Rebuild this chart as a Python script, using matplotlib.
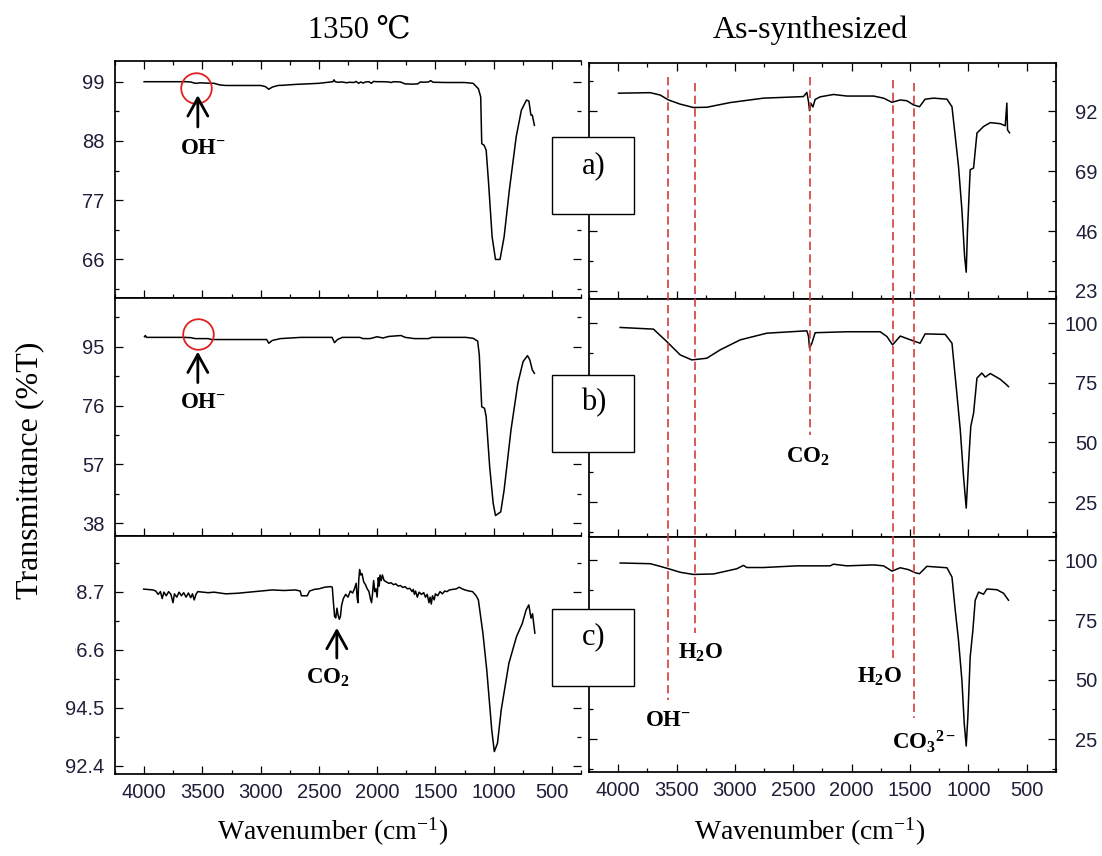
import matplotlib
matplotlib.use("Agg")
import matplotlib.pyplot as plt
from matplotlib.ticker import MultipleLocator, FormatStrFormatter
from matplotlib.lines import Line2D
from matplotlib.patches import Rectangle
from matplotlib.transforms import blended_transform_factory

plt.rcParams['mathtext.fontset'] = 'custom'
plt.rcParams['mathtext.rm'] = 'Liberation Serif'
plt.rcParams['mathtext.it'] = 'Liberation Serif:italic'
plt.rcParams['mathtext.bf'] = 'Liberation Serif:bold'

# ---------------- spectra: 1350 C (left column) ----------------
wn_1350_a = [4000, 3640, 3600, 3570, 3550, 3520, 3480, 3400, 3350, 3300, 3000, 2960, 2930,
             2900, 2850, 2800, 2700, 2500, 2400, 2380, 2370, 2360, 2340, 2300, 2260, 2240,
             2200, 2180, 2160, 2140, 2120, 2100, 2070, 2050, 2030, 2000, 1950, 1900, 1880,
             1860, 1800, 1760, 1700, 1650, 1630, 1600, 1560, 1540, 1520, 1400, 1250, 1200,
             1176, 1131, 1111, 1102, 1082, 1064, 1043, 1013, 984, 945, 910, 865, 806, 762,
             718, 697, 680, 668, 650]
t_1350_a = [99.0, 99.0, 98.95, 98.75, 98.7, 98.8, 98.75, 98.7, 98.4, 98.3, 98.3, 98.1, 97.6,
            98.0, 98.3, 98.35, 98.5, 98.7, 98.95, 99.0, 99.35, 99.0, 98.9, 98.95, 98.8, 98.9,
            98.85, 99.05, 98.7, 98.95, 98.75, 98.95, 99.0, 98.7, 99.05, 99.0, 99.0, 98.95, 98.85,
            99.0, 98.95, 98.6, 98.55, 98.6, 98.95, 98.9, 98.95, 99.2, 98.9, 98.85, 98.85, 98.75,
            98.7, 97.7, 96.2, 87.5, 87.2, 86.3, 80.1, 70.2, 66.0, 66.0, 70.2, 78.9, 88.8, 93.7,
            95.6, 95.4, 92.8, 92.8, 90.9]

wn_1350_b = [3997, 3990, 3980, 3657, 3600, 3560, 3450, 3421, 2948, 2930, 2900, 2830, 2653,
             2387, 2366, 2340, 2298, 2150, 2120, 2061, 2000, 1950, 1900, 1795, 1760, 1680,
             1560, 1530, 1238, 1176, 1137, 1123, 1102, 1078, 1064, 1034, 1004, 984, 939, 910,
             851, 792, 747, 709, 689, 668, 650]
t_1350_b = [98.2, 98.6, 98.0, 98.0, 97.9, 97.6, 97.6, 97.3, 97.3, 96.1, 97.0, 97.6, 98.0,
            98.0, 96.3, 97.3, 98.0, 98.0, 97.6, 97.6, 98.2, 97.8, 98.3, 98.6, 98.0, 97.6,
            97.6, 98.0, 98.0, 97.7, 96.8, 92.3, 75.6, 75.1, 72.4, 56.3, 44.5, 40.5, 41.7, 48.7,
            68.1, 83.2, 90.2, 92.1, 90.7, 87.5, 86.4]

wn_1350_c = [4004, 3923, 3900, 3880, 3860, 3845, 3830, 3810, 3790, 3770, 3752, 3740, 3720,
             3700, 3680, 3660, 3640, 3620, 3600, 3585, 3570, 3555, 3540, 3450, 3400, 3300,
             3200, 3100, 3000, 2900, 2800, 2700, 2660, 2650, 2600, 2580, 2540, 2500, 2450,
             2400, 2385, 2375, 2365, 2355, 2345, 2335, 2325, 2315, 2305, 2290, 2270, 2250,
             2230, 2210, 2195, 2180, 2172, 2165, 2158, 2150, 2140, 2130, 2115, 2100, 2085,
             2070, 2058, 2048, 2040, 2030, 2020, 2010, 2000, 1990, 1982, 1975, 1965, 1955,
             1940, 1920, 1900, 1880, 1860, 1840, 1820, 1800, 1780, 1760, 1740, 1720, 1700,
             1690, 1680, 1670, 1655, 1640, 1620, 1600, 1585, 1570, 1555, 1545, 1535, 1525,
             1510, 1500, 1480, 1460, 1440, 1420, 1400, 1380, 1350, 1320, 1296, 1270, 1246,
             1210, 1181, 1150, 1131, 1092, 1059, 1016, 994, 967, 935, 869, 804, 754, 721,
             698, 679, 666, 646]
t_1350_c = [98.79, 98.76, 98.72, 98.6, 98.7, 98.45, 98.68, 98.55, 98.7, 98.6, 98.3, 98.62, 98.5,
            98.68, 98.55, 98.66, 98.5, 98.65, 98.48, 98.62, 98.4, 98.6, 98.7, 98.66, 98.68, 98.62,
            98.64, 98.68, 98.72, 98.76, 98.74, 98.76, 98.72, 98.55, 98.55, 98.72, 98.78, 98.8, 98.86,
            98.88, 98.86, 98.3, 97.8, 97.75, 98.1, 97.85, 97.7, 97.8, 98.2, 98.45, 98.6, 98.5,
            98.72, 98.65, 98.8, 99.0, 98.5, 98.3, 99.1, 99.5, 99.3, 99.35, 99.05, 98.95, 98.8,
            98.7, 98.45, 98.3, 98.6, 99.1, 98.7, 98.8, 98.5, 99.2, 98.9, 99.3, 99.1, 99.3,
            99.1, 99.05, 99.0, 99.02, 98.95, 98.98, 98.9, 98.92, 98.85, 98.88, 98.8, 98.82, 98.7,
            98.78, 98.6, 98.72, 98.5, 98.68, 98.6, 98.66, 98.5, 98.6, 98.3, 98.5, 98.25, 98.55,
            98.4, 98.62, 98.55, 98.7, 98.62, 98.72, 98.7, 98.76, 98.78, 98.8, 98.86, 98.8, 98.76,
            98.72, 98.7, 98.55, 98.4, 97.2, 95.87, 93.7, 92.92, 93.22, 94.42, 96.11, 97.07, 97.55, 98.04,
            98.22, 97.74, 97.9, 97.2]

# ---------------- spectra: as-synthesized (right column) ----------------
wn_as_a = [3997, 3726, 3641, 3569, 3469, 3355, 3241, 3041, 2755, 2413, 2384, 2370, 2361,
           2349, 2332, 2313, 2270, 2156, 2041, 1812, 1727, 1655, 1584, 1528, 1470, 1419,
           1371, 1299, 1184, 1141, 1113, 1085, 1056, 1033, 1019, 1008, 985, 956, 927, 871,
           813, 728, 685, 671, 665, 648]
t_as_a = [98.9, 99.1, 98.2, 96.3, 94.7, 93.4, 93.5, 95.3, 97.0, 97.6, 99.2, 95.7, 92.2,
          95.0, 93.6, 96.5, 97.5, 98.4, 97.8, 97.8, 97.0, 95.4, 96.3, 96.0, 94.4, 93.7,
          96.6, 97.0, 96.6, 93.7, 82.3, 70.8, 54.2, 36.3, 30.2, 46.5, 69.5, 70.2, 83.6, 86.1,
          87.6, 87.2, 86.4, 95.1, 84.8, 83.7]

wn_as_b = [3983, 3698, 3584, 3469, 3369, 3241, 3127, 2955, 2727, 2384, 2370, 2361, 2341,
           2313, 2041, 1756, 1698, 1650, 1584, 1513, 1456, 1414, 1371, 1199, 1141, 1105,
           1070, 1042, 1019, 999, 980, 956, 927, 885, 856, 813, 728, 671, 657]
t_as_b = [98.2, 97.5, 92.3, 86.7, 84.6, 85.3, 88.8, 93.0, 95.8, 96.8, 94.5, 89.5, 91.6,
          96.0, 96.4, 96.4, 94.4, 90.9, 94.6, 93.3, 92.3, 91.6, 95.5, 95.3, 91.6, 73.4,
          55.3, 35.7, 22.5, 41.3, 56.7, 62.3, 77.0, 79.1, 77.4, 78.9, 76.5, 74.1, 73.4]

wn_as_c = [3983, 3726, 3641, 3569, 3469, 3355, 3183, 2983, 2927, 2899, 2755, 2470, 2184,
           2156, 2041, 1812, 1727, 1655, 1584, 1513, 1456, 1419, 1356, 1184, 1141, 1113,
           1085, 1056, 1036, 1019, 1005, 985, 962, 942, 913, 871, 842, 756, 699, 657]
t_as_c = [98.9, 98.6, 97.5, 96.5, 95.0, 94.1, 94.3, 96.5, 97.9, 97.0, 97.0, 97.7, 97.7,
          98.4, 97.7, 98.1, 97.7, 95.5, 96.9, 96.1, 94.8, 94.4, 97.5, 96.9, 93.0, 79.1,
          66.5, 49.8, 31.7, 22.2, 34.4, 59.5, 70.7, 83.3, 86.7, 85.8, 88.0, 87.7, 86.2, 83.3]

# band positions marked on the as-synthesized spectra (cm-1)
band_wn = [3570, 3345, 2355, 1650, 1465]

# ---------------- layout (pixels of a 1102 x 856 canvas) ----------------
W, H = 1102, 856
fig = plt.figure(figsize=(W / 100, H / 100), dpi=100)


def rect(x0, y0, x1, y1):
    return [x0 / W, 1 - y1 / H, (x1 - x0) / W, (y1 - y0) / H]


def fx(x):
    return x / W


def fy(y):
    return 1 - y / H


left_rows = [(60.7, 297.7), (297.7, 535.7), (535.7, 774)]
right_rows = [(62.7, 299.3), (299.3, 536.5), (536.5, 772)]

left_data = [(wn_1350_a, t_1350_a), (wn_1350_b, t_1350_b), (wn_1350_c, t_1350_c)]
right_data = [(wn_as_a, t_as_a), (wn_as_b, t_as_b), (wn_as_c, t_as_c)]

left_ylim = [(58.9, 102.9), (34.0, 110.8), (92.11, 100.72)]
left_major = [11, 19, 2.1]
left_fmt = ['%d', '%d', '%.1f']
right_ylim = [(19.8, 110.6), (10.6, 110.0), (11.3, 110.0)]
right_major = [23, 25, 25]

tick_color = '#1f1f3a'
serif = ['Liberation Serif', 'DejaVu Serif']


def style_axis(ax, row, side):
    ax.set_xlim(4250, 250)
    ax.xaxis.set_major_locator(MultipleLocator(500))
    ax.xaxis.set_minor_locator(MultipleLocator(250))
    for sp in ax.spines.values():
        sp.set_linewidth(1.25)
    ax.tick_params(which='both', direction='in', top=(row == 0), bottom=True,
                   left=True, right=True, width=0.9, colors='black')
    ax.tick_params(which='major', length=6)
    ax.tick_params(which='minor', length=3)
    ax.tick_params(axis='x', labelbottom=(row == 2), pad=6.5, labelcolor=tick_color,
                   labelsize=14.5)
    if side == 'left':
        ax.tick_params(axis='y', labelleft=True, labelright=False, pad=7.7,
                       labelcolor=tick_color, labelsize=14.5)
        ax.spines['right'].set_visible(False)
    else:
        ax.tick_params(axis='y', labelleft=False, labelright=True, pad=30,
                       labelcolor=tick_color, labelsize=14.5)
    for lbl in ax.get_xticklabels() + ax.get_yticklabels():
        lbl.set_fontfamily('Liberation Sans')


axes_left, axes_right = [], []
for i in range(3):
    axl = fig.add_axes(rect(115, left_rows[i][0], 581, left_rows[i][1]))
    wn, tv = left_data[i]
    axl.plot(wn, tv, color='black', lw=1.1)
    axl.set_ylim(*left_ylim[i])
    axl.yaxis.set_major_locator(MultipleLocator(left_major[i]))
    axl.yaxis.set_minor_locator(MultipleLocator(left_major[i] / 2))
    axl.yaxis.set_major_formatter(FormatStrFormatter(left_fmt[i]))
    style_axis(axl, i, 'left')
    axes_left.append(axl)

    axr = fig.add_axes(rect(589, right_rows[i][0], 1056, right_rows[i][1]))
    wn, tv = right_data[i]
    axr.plot(wn, tv, color='black', lw=1.1)
    axr.set_ylim(*right_ylim[i])
    axr.yaxis.set_major_locator(MultipleLocator(right_major[i]))
    axr.yaxis.set_minor_locator(MultipleLocator(right_major[i] / 2))
    axr.yaxis.set_major_formatter(FormatStrFormatter('%d'))
    style_axis(axr, i, 'right')
    for lbl in axr.get_yticklabels():
        lbl.set_horizontalalignment('right')
    axes_right.append(axr)

# ---------------- OH- / CO2 markers on the 1350 C spectra ----------------
arrow_kw = dict(arrowstyle='->,head_length=0.65,head_width=0.36', lw=2.0,
                color='black', mutation_scale=20, shrinkA=0, shrinkB=0)
circle_kw = dict(marker='o', ms=22, mfc='none', mec='#e02020', mew=1.3, ls='none')

axes_left[0].plot([3554], [97.85], **circle_kw)
axes_left[0].annotate('', xy=(3539, 96.5), xytext=(3539, 90.6), arrowprops=arrow_kw)
axes_left[1].plot([3539], [99.1], **circle_kw)
axes_left[1].annotate('', xy=(3539, 93.4), xytext=(3539, 83.4), arrowprops=arrow_kw)
axes_left[2].annotate('', xy=(2346, 97.39), xytext=(2346, 96.3), arrowprops=arrow_kw)

bold = dict(family=serif, size=16.5, ha='center', va='center', color='black')
fig.text(fx(203), fy(148), r'$\mathbf{OH^{-}}$', **bold)
fig.text(fx(203), fy(403), r'$\mathbf{OH^{-}}$', **bold)
fig.text(fx(328), fy(678), r'$\mathbf{CO_2}$', **bold)

# ---------------- band guides across the as-synthesized panels ----------------
band_top = [76.7, 82.7, 77.0, 80.0, 82.7]
band_bottom = [700, 633, 435, 658, 718]
blend = blended_transform_factory(axes_right[0].transData, fig.transFigure)
for w, y0, y1 in zip(band_wn, band_top, band_bottom):
    fig.add_artist(Line2D([w, w], [fy(y0), fy(y1)], transform=blend, color='#d63c3c',
                          lw=1.2, ls=(0, (5, 2.6)), zorder=3))

fig.text(fx(668), fy(720), r'$\mathbf{OH^{-}}$', **bold)
fig.text(fx(701), fy(653), r'$\mathbf{H_2O}$', **bold)
fig.text(fx(808), fy(457), r'$\mathbf{CO_2}$', **bold)
fig.text(fx(880), fy(677), r'$\mathbf{H_2O}$', **bold)
fig.text(fx(924), fy(742), r'$\mathbf{CO_3{}^{2-}}$', **bold)

# ---------------- sample labels ----------------
box_tops = [137.3, 375.0, 609.0]
box_names = ['a)', 'b)', 'c)']
for top, name in zip(box_tops, box_names):
    fig.add_artist(Rectangle((fx(552), fy(top + 77)), (634 - 552) / W, 77 / H,
                             transform=fig.transFigure, fc='white', ec='black',
                             lw=1.0, zorder=5))
    fig.text(fx(594), fy(top + 28), name, family=serif, size=22, ha='center',
             va='center', zorder=6)

# the label strip at the far left partly covers the lowest panel's tick labels
fig.add_artist(Rectangle((fx(46), fy(662)), (74.5 - 46) / W, (662 - 578) / H,
                         transform=fig.transFigure, fc='white', ec='none', zorder=5))

# ---------------- titles and axis labels ----------------
fig.text(fx(359), fy(30), '1350 \u2103', family=serif, size=22, ha='center', va='center')
fig.text(fx(810), fy(30), 'As-synthesized', family=serif, size=23, ha='center', va='center')
fig.text(fx(333), fy(832), r'Wavenumber (cm$^{\mathregular{-1}}$)', family=serif, size=20,
         ha='center', va='center')
fig.text(fx(810), fy(832), r'Wavenumber (cm$^{\mathregular{-1}}$)', family=serif, size=20,
         ha='center', va='center')
fig.text(fx(30), fy(470), 'Transmittance (%T)', family=serif, size=23, rotation=90,
         ha='center', va='center', zorder=6)

fig.savefig('out.png', dpi=100)
